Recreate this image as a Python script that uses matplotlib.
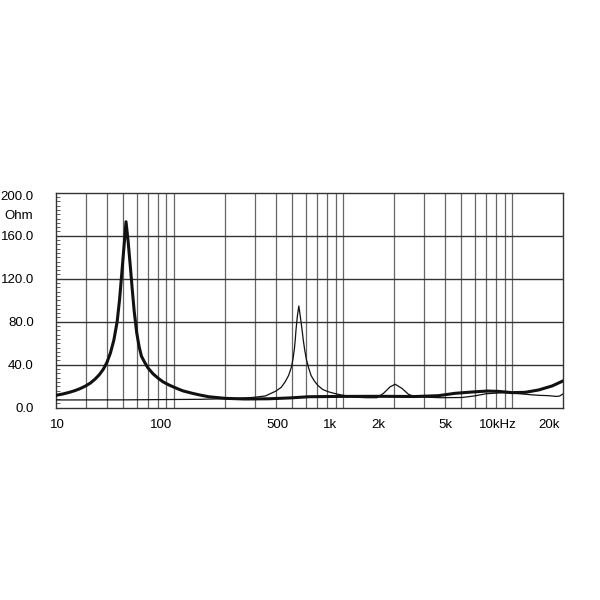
import numpy as np
import matplotlib
matplotlib.use('Agg')
import matplotlib.pyplot as plt

plt.rcParams['font.family'] = ['Liberation Sans', 'DejaVu Sans']

# woofer impedance (thick curve)
woofer_f = [20, 22, 24, 26, 28, 30, 32, 34, 36, 38, 40, 42, 44, 46, 47.5, 49, 50.5, 51.9,
            53.4, 55, 56.5, 58, 60, 62, 64, 67, 70, 75, 81, 86, 93, 100, 106, 113, 128, 142,
            160, 200, 263, 363, 485, 626, 958, 1650, 2660, 3660, 4590, 5770, 7080, 8290,
            9940, 11900, 14300, 17150, 20000]
woofer_ohm = [11.5, 12.8, 14.3, 16.0, 18.0, 20.3, 23.0, 26.5, 30.5, 35.5, 42, 51, 63, 80, 100, 125, 150, 173,
              155, 132, 110, 90, 70, 57, 48, 42, 37, 31.5, 27, 24, 21.2, 19, 17.3, 15.6, 13.4, 11.8,
              10.2, 8.7, 8.1, 8.3, 9.1, 10.2, 10.5, 10.6, 10.4, 11.2, 13.4, 14.6, 15.5, 15.2,
              14.0, 14.3, 16.5, 20.2, 25.0]

# tweeter / second curve (thin)
thin_f = [20, 51, 142, 224, 289, 346, 400, 430, 453, 475, 494, 505, 514, 520, 525, 535, 546,
          557, 571, 580, 591, 605, 624, 645, 673, 710, 755, 810, 865, 930, 998, 1176, 1366,
          1580, 1730, 1895, 2028, 2222, 2432, 2660, 3740, 5050, 6000, 7000, 9000, 11000,
          13000, 14500, 16300, 18200, 19000, 20000]
thin_ohm = [7.2, 7.3, 7.8, 8.5, 9.5, 10.9, 15.5, 19, 24, 30, 38, 46, 55, 63, 72, 85, 94.6,
            85, 72, 63, 54, 45, 37, 30, 25, 20.5, 17, 15, 13.7, 12.5, 11.5, 9.8, 9.3,
            9.3, 13.4, 19.5, 21.8, 18, 12.4, 10.2, 9.3, 9.5, 11, 13, 14, 13,
            12, 11.5, 11.2, 10.5, 10.8, 13]

y_ticks = [0, 40, 80, 120, 160]
y_labels = ['0.0', '40.0', '80.0', '120.0', '160.0']

# x labels as printed on the original sheet (they sit left of their gridlines)
x_label_pos = [20.4, 83.4, 409, 836, 1614, 4008, 8243, 16530]
x_labels = ['10', '100', '500', '1k', '2k', '5k', '10kHz', '20k']

fig = plt.figure(figsize=(6, 6), dpi=100)
ax = fig.add_axes([0.0933, 0.3205, 0.8455, 0.3583])

ax.set_xscale('log')
ax.set_xlim(20, 20000)
ax.set_ylim(0, 200)

# grid
vgrid = [m * d for d in (10, 100, 1000) for m in range(2, 10)] + [100, 1000, 10000]
vgrid = [v for v in vgrid if 20 < v < 20000]
for v in vgrid:
    ax.axvline(v, color='#666666', linewidth=0.9, zorder=1)
for h in [40, 80, 120, 160]:
    ax.axhline(h, color='#333333', linewidth=1.0, zorder=1)

ax.plot(thin_f, thin_ohm, color='#111111', linewidth=0.9, zorder=3)
ax.plot(woofer_f, woofer_ohm, color='#111111', linewidth=2.2, zorder=4,
        solid_joinstyle='round')

ax.set_xticks(x_label_pos)
ax.set_xticklabels(x_labels)
ax.xaxis.set_minor_locator(matplotlib.ticker.NullLocator())
ax.tick_params(axis='x', length=0, pad=8, labelsize=9.5)

ax.set_yticks(y_ticks)
ax.set_yticklabels(y_labels)
ax.set_yticks(np.arange(0, 201, 4), minor=True)
ax.tick_params(axis='y', which='major', length=0, pad=16, labelsize=9.5)
ax.tick_params(axis='y', which='minor', direction='in', length=3, width=0.6, color='#444444')

ax.text(-0.045, 0.98, '200.0', transform=ax.transAxes, ha='right', va='center', fontsize=9.5)
ax.text(-0.045, 0.89, 'Ohm', transform=ax.transAxes, ha='right', va='center', fontsize=9.5)

for s in ax.spines.values():
    s.set_color('#333333')
    s.set_linewidth(1.0)

fig.savefig('out.png', dpi=100, facecolor='white')
